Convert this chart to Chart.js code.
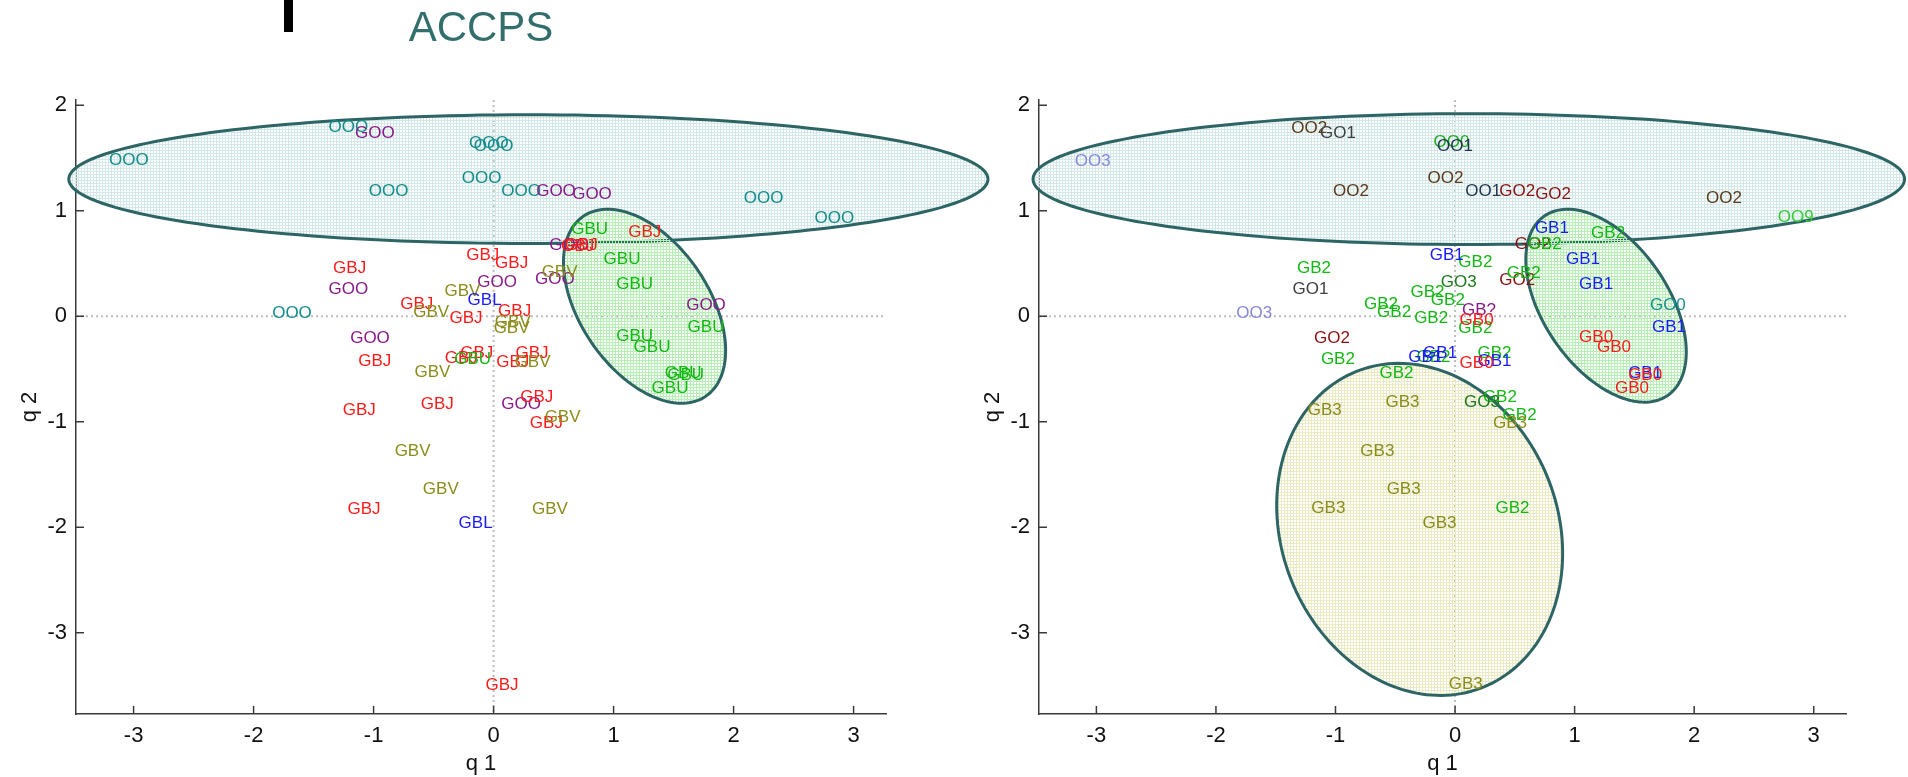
<!DOCTYPE html>
<html>
<head>
<meta charset="utf-8">
<script src="https://cdn.jsdelivr.net/npm/chart.js@4.4.1/dist/chart.umd.min.js"></script>
<style>
    html, body { margin: 0; padding: 0; background: #fff; width: 1908px; height: 777px; overflow: hidden; }
    body { position: relative; }
    #topBar { position: absolute; left: 284px; top: 0; width: 9px; height: 32px; background: #000; }
    .wrap { position: absolute; top: 0; height: 777px; }
    #leftWrap { left: 0; width: 1000px; }
    #rightWrap { left: 963px; width: 945px; }
</style>
</head>
<body>
<div id="topBar"></div>
<div class="wrap" id="leftWrap"><canvas id="leftChart" width="1000" height="777"></canvas></div>
<div class="wrap" id="rightWrap"><canvas id="rightChart" width="945" height="777"></canvas></div>
<script>
// axis ranges and ticks (same for both panels)
const xRange = [-3.48, 3.27];
const yRange = [-3.77, 2.05];
const tickStep = 1;

// ---- left panel: label -> [q1, q2] positions ----
const leftOOO = [[-3.04, 1.48], [-1.21, 1.79], [-0.04, 1.64], [0.0, 1.61], [-0.10, 1.31], [-0.875, 1.18], [0.23, 1.18], [2.25, 1.12], [2.84, 0.93], [-1.68, 0.03]];
const leftGOO = [[-0.99, 1.73], [0.52, 1.18], [0.82, 1.16], [-1.21, 0.26], [-1.03, -0.21], [0.03, 0.32], [0.51, 0.35], [0.63, 0.67], [1.77, 0.10], [0.23, -0.83]];
const leftGBJ = [[-1.20, 0.45], [-0.99, -0.43], [-1.12, -0.89], [-0.47, -0.83], [-0.64, 0.11], [-0.09, 0.58], [0.15, 0.50], [-0.23, -0.02], [0.175, 0.05], [-0.27, -0.40], [-0.14, -0.35], [0.16, -0.44], [0.32, -0.35], [0.36, -0.77], [0.44, -1.01], [0.73, 0.67], [0.70, 0.66], [1.26, 0.80], [-1.08, -1.83], [0.07, -3.50]];
const leftGBV = [[-0.51, -0.53], [-0.675, -1.28], [-0.52, 0.04], [-0.26, 0.24], [0.16, -0.06], [0.15, -0.11], [0.325, -0.44], [0.575, -0.96], [0.55, 0.42], [-0.44, -1.64], [0.47, -1.83]];
const leftGBL = [[-0.075, 0.15], [-0.15, -1.96]];
const leftGBU = [[-0.175, -0.41], [0.80, 0.82], [1.07, 0.54], [1.175, 0.30], [1.175, -0.19], [1.32, -0.29], [1.77, -0.10], [1.58, -0.54], [1.60, -0.56], [1.47, -0.68]];

// ---- right panel ----
const rightOO2 = [[-1.22, 1.78], [-0.87, 1.18], [-0.08, 1.31], [2.25, 1.12]];
const rightGO1 = [[-0.98, 1.73], [-1.21, 0.26]];
const rightOO3 = [[-3.03, 1.47], [-1.68, 0.03]];
const rightOO0 = [[-0.03, 1.65]];
const rightOO1 = [[0.0, 1.61], [0.235, 1.18]];
const rightGO2 = [[0.52, 1.18], [0.82, 1.16], [0.65, 0.68], [0.52, 0.34], [-1.03, -0.21]];
const rightOO9 = [[2.85, 0.94]];
const rightGB1 = [[0.81, 0.83], [1.07, 0.54], [1.18, 0.30], [1.79, -0.10], [1.59, -0.54], [-0.07, 0.58], [-0.125, -0.35], [-0.25, -0.39], [0.33, -0.43]];
const rightGB2 = [[1.28, 0.79], [0.75, 0.68], [0.575, 0.41], [0.17, 0.51], [-1.18, 0.45], [-0.62, 0.11], [-0.51, 0.04], [-0.23, 0.23], [-0.20, -0.02], [-0.06, 0.15], [0.17, -0.11], [-0.98, -0.41], [-0.18, -0.39], [0.33, -0.35], [-0.49, -0.54], [0.375, -0.77], [0.54, -0.94], [0.48, -1.82]];
const rightGO3 = [[0.03, 0.32], [0.225, -0.82]];
const rightGBq = [[0.20, 0.06]];
const rightGB0 = [[0.18, -0.04], [0.18, -0.45], [1.18, -0.20], [1.33, -0.29], [1.59, -0.56], [1.48, -0.68]];
const rightGO0 = [[1.78, 0.10]];
const rightGB3 = [[-1.09, -0.89], [-0.44, -0.82], [-0.65, -1.28], [0.46, -1.01], [-0.43, -1.64], [-1.06, -1.82], [-0.13, -1.96], [0.09, -3.49]];

// group regions: centre and two semi-axis vectors, in q1/q2 units
const leftRegions = [
    { c: [0.29, 1.30], u: [3.83, 0], v: [0, 0.61], kind: 'top' },
    { c: [1.258, 0.095], u: [0.510, -0.853], v: [-0.443, -0.343], kind: 'green' }
];
const rightRegions = [
    { c: [0.115, 1.30], u: [3.645, 0], v: [0, 0.62], kind: 'top' },
    { c: [1.263, 0.10], u: [0.516, -0.850], v: [-0.429, -0.337], kind: 'green' },
    { c: [-0.296, -2.02], u: [0.538, -1.493], v: [-1.068, -0.498], kind: 'olive' }
];

const FONT = '"Liberation Sans", Arial, Helvetica, sans-serif';
const AXIS = '#3a3a3a';
const meshColors = { top: '#d3e9e9', green: '#b4f0b4', olive: '#eaeac4' };

const toPts = (arr) => arr.map(([x, y]) => ({ x, y }));
const series = (name, arr, color) => ({ label: name, data: toPts(arr), textColor: color, pointRadius: 0, pointHoverRadius: 0, showLine: false });

function meshPattern(ctx, color) {
    const c = document.createElement('canvas');
    c.width = 3; c.height = 3;
    const g = c.getContext('2d');
    g.fillStyle = color;
    g.fillRect(0, 0, 3, 1);
    g.fillRect(0, 0, 1, 3);
    return ctx.createPattern(c, 'repeat');
}

const regionPlugin = {
    id: 'regions',
    beforeDatasetsDraw(chart, args, opts) {
        const { ctx, chartArea: a, scales: { x, y } } = chart;
        ctx.save();
        // dotted zero lines
        ctx.strokeStyle = '#bdbdbd';
        ctx.lineWidth = 2;
        ctx.setLineDash([2, 3]);
        const x0 = x.getPixelForValue(0), y0 = y.getPixelForValue(0);
        ctx.beginPath();
        ctx.moveTo(a.left, y0); ctx.lineTo(a.right, y0);
        ctx.moveTo(x0, a.top); ctx.lineTo(x0, a.bottom);
        ctx.stroke();
        ctx.setLineDash([]);

        (opts.items || []).forEach((r) => {
            ctx.beginPath();
            for (let k = 0; k <= 180; k++) {
                const t = (k / 180) * Math.PI * 2;
                const qx = r.c[0] + r.u[0] * Math.cos(t) + r.v[0] * Math.sin(t);
                const qy = r.c[1] + r.u[1] * Math.cos(t) + r.v[1] * Math.sin(t);
                const px = x.getPixelForValue(qx), py = y.getPixelForValue(qy);
                if (k === 0) ctx.moveTo(px, py); else ctx.lineTo(px, py);
            }
            ctx.closePath();
            ctx.fillStyle = meshPattern(ctx, meshColors[r.kind]);
            ctx.fill();
            ctx.strokeStyle = '#2d6464';
            ctx.lineWidth = 3;
            ctx.stroke();
        });
        ctx.restore();
    }
};

const labelPlugin = {
    id: 'textMarks',
    afterDatasetsDraw(chart) {
        const ctx = chart.ctx;
        ctx.save();
        ctx.font = '17px ' + FONT;
        ctx.textAlign = 'center';
        ctx.textBaseline = 'middle';
        chart.data.datasets.forEach((ds, i) => {
            ctx.fillStyle = ds.textColor;
            chart.getDatasetMeta(i).data.forEach((pt) => ctx.fillText(ds.label, pt.x, pt.y));
        });
        ctx.restore();
    }
};

// short tick marks pointing into the plot
const innerTicks = {
    id: 'innerTicks',
    afterDraw(chart) {
        const { ctx, chartArea: a, scales: { x, y } } = chart;
        ctx.save();
        ctx.strokeStyle = AXIS;
        ctx.lineWidth = 1.5;
        ctx.beginPath();
        x.ticks.forEach((t) => { const p = x.getPixelForValue(t.value); ctx.moveTo(p, a.bottom); ctx.lineTo(p, a.bottom - 8); });
        y.ticks.forEach((t) => { const p = y.getPixelForValue(t.value); ctx.moveTo(a.left, p); ctx.lineTo(a.left + 8, p); });
        ctx.stroke();
        ctx.restore();
    }
};

function scalesFor() {
    const tickFont = { family: FONT, size: 22 };
    return {
        x: {
            type: 'linear', min: xRange[0], max: xRange[1],
            afterFit: (s) => { s.height = 63; },
            grid: { display: false, drawTicks: false },
            border: { display: true, color: AXIS, width: 1.5 },
            ticks: { stepSize: tickStep, includeBounds: false, padding: 9, color: '#111', font: tickFont, maxRotation: 0 },
            title: { display: true, text: 'q 1', color: '#111', font: tickFont, padding: { top: 0, bottom: 0 } }
        },
        y: {
            type: 'linear', min: yRange[0], max: yRange[1],
            afterFit: (s) => { s.width = 76; },
            grid: { display: false, drawTicks: false },
            border: { display: true, color: AXIS, width: 1.5 },
            ticks: { stepSize: tickStep, includeBounds: false, padding: 9, color: '#111', font: tickFont },
            title: { display: true, text: 'q 2', color: '#111', font: tickFont, padding: { top: 17, bottom: 0 } }
        }
    };
}

function makeChart(id, datasets, regions, padding, title) {
    new Chart(document.getElementById(id).getContext('2d'), {
        type: 'scatter',
        data: { datasets },
        options: {
            responsive: false,
            animation: false,
            events: [],
            layout: { padding },
            scales: scalesFor(),
            plugins: {
                legend: { display: false },
                tooltip: { enabled: false },
                title: title || { display: false },
                regions: { items: regions }
            }
        },
        plugins: [regionPlugin, labelPlugin, innerTicks]
    });
}

makeChart('leftChart', [
    series('OOO', leftOOO, '#138c8c'),
    series('GOO', leftGOO, '#8a1a8a'),
    series('GBJ', leftGBJ, '#ff1a1a'),
    series('GBV', leftGBV, '#8c8c1a'),
    series('GBL', leftGBL, '#1a1aff'),
    series('GBU', leftGBU, '#14b814')
], leftRegions, { top: 0, right: 114, left: 0, bottom: 0 }, {
    display: true, text: 'ACCPS', color: '#326e6c', fullSize: false,
    font: { family: FONT, size: 42, weight: 'normal', lineHeight: 1.2 },
    padding: { top: 4, bottom: 45.6 }
});

makeChart('rightChart', [
    series('OO2', rightOO2, '#5a3a1a'),
    series('GO1', rightGO1, '#404040'),
    series('OO3', rightOO3, '#8888dd'),
    series('OO0', rightOO0, '#22aa22'),
    series('OO1', rightOO1, '#1e3550'),
    series('GO2', rightGO2, '#8b1010'),
    series('OO9', rightOO9, '#33cc33'),
    series('GB2', rightGB2, '#14b814'),
    series('GB1', rightGB1, '#1a1aff'),
    series('GO3', rightGO3, '#1a7a1a'),
    series('GB?', rightGBq, '#8a1a8a'),
    series('GB0', rightGB0, '#ff1a1a'),
    series('GO0', rightGO0, '#1a9090'),
    series('GB3', rightGB3, '#8c8c1a')
], rightRegions, { top: 100, right: 62, left: 0, bottom: 0 });
</script>
</body>
</html>
